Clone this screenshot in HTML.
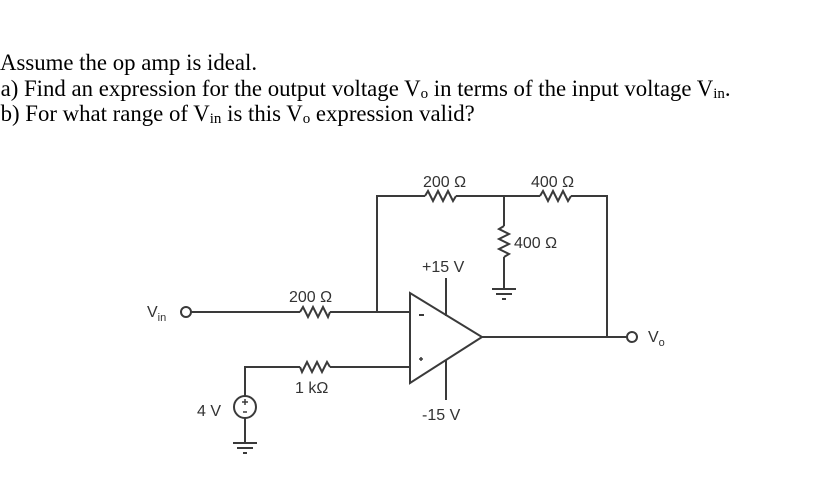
<!DOCTYPE html>
<html><head><meta charset="utf-8"><style>
html,body{margin:0;padding:0;background:#fff;}
svg{display:block}
</style></head><body>
<svg width="822" height="486" viewBox="0 0 822 486" xmlns="http://www.w3.org/2000/svg">
<g font-family="Liberation Serif, serif" font-size="22.8" fill="#000">
<text x="0" y="70">Assume the op amp is ideal.</text>
<text x="-7" y="96">(a) Find an expression for the output voltage V<tspan font-size="15" dy="2">o</tspan><tspan dy="-2"> in terms of the input voltage V</tspan><tspan font-size="15" dy="2">in</tspan><tspan dy="-2">.</tspan></text>
<text x="-7" y="121">(b) For what range of V<tspan font-size="15" dy="2">in</tspan><tspan dy="-2"> is this V</tspan><tspan font-size="15" dy="2">o</tspan><tspan dy="-2"> expression valid?</tspan></text>
</g>
<g stroke="#3a3a3a" stroke-width="2" fill="none">
<line x1="191" y1="312" x2="300" y2="312"/>
<polyline points="300,312 303,307 308,317 313,307 318,317 323,307 328,317 330,312"/>
<line x1="330" y1="312" x2="410" y2="312"/>
<circle cx="186" cy="312" r="5" fill="#fff"/>
<polyline points="377,312 377,196 425,196"/>
<polyline points="425,196 428,191 433,201 438,191 443,201 448,191 453,201 456,196"/>
<line x1="456" y1="196" x2="540" y2="196"/>
<polyline points="540,196 543,191 548,201 553,191 558,201 563,191 568,201 571,196"/>
<polyline points="571,196 607,196 607,337"/>
<line x1="504" y1="196" x2="504" y2="226"/>
<polyline points="504,226 499,229 509,234 499,239 509,244 499,249 509,254 504,257"/>
<line x1="504" y1="257" x2="504" y2="289"/>
<line x1="492" y1="289" x2="516" y2="289"/>
<line x1="496" y1="294" x2="512" y2="294"/>
<line x1="502" y1="299" x2="506" y2="299"/>
<polygon points="410,293 410,383 482,337"/>
<line x1="446" y1="278" x2="446" y2="316"/>
<line x1="446" y1="360" x2="446" y2="400"/>
<line x1="419" y1="315" x2="424" y2="315"/>
<line x1="419" y1="359" x2="423" y2="359" stroke-width="1.5"/>
<line x1="421" y1="357" x2="421" y2="361" stroke-width="1.5"/>
<line x1="482" y1="337" x2="627" y2="337"/>
<circle cx="632" cy="337" r="5" fill="#fff"/>
<polyline points="410,367 330,367"/>
<polyline points="330,367 327,362 322,372 317,362 312,372 307,362 302,372 300,367"/>
<polyline points="300,367 245,367 245,396"/>
<circle cx="245" cy="407" r="11"/>
<line x1="245" y1="418" x2="245" y2="443"/>
<line x1="233" y1="443" x2="257" y2="443"/>
<line x1="237" y1="448" x2="253" y2="448"/>
<line x1="243" y1="453" x2="247" y2="453"/>
<line x1="242" y1="402" x2="248" y2="402" stroke-width="1.5"/>
<line x1="245" y1="399" x2="245" y2="405" stroke-width="1.5"/>
<line x1="243" y1="412" x2="247" y2="412" stroke-width="1.5"/>
</g>
<g font-family="Liberation Sans, sans-serif" font-size="16" fill="#333">
<text x="423" y="187">200 Ω</text>
<text x="531" y="187">400 Ω</text>
<text x="514" y="248">400 Ω</text>
<text x="422" y="272">+15 V</text>
<text x="289" y="302">200 Ω</text>
<text x="295" y="393">1 kΩ</text>
<text x="422" y="420">-15 V</text>
<text x="197" y="416">4 V</text>
<text x="147" y="317">V<tspan font-size="11" dy="4">in</tspan></text>
<text x="648" y="342">V<tspan font-size="11" dy="4">o</tspan></text>
</g>
</svg>
</body></html>
